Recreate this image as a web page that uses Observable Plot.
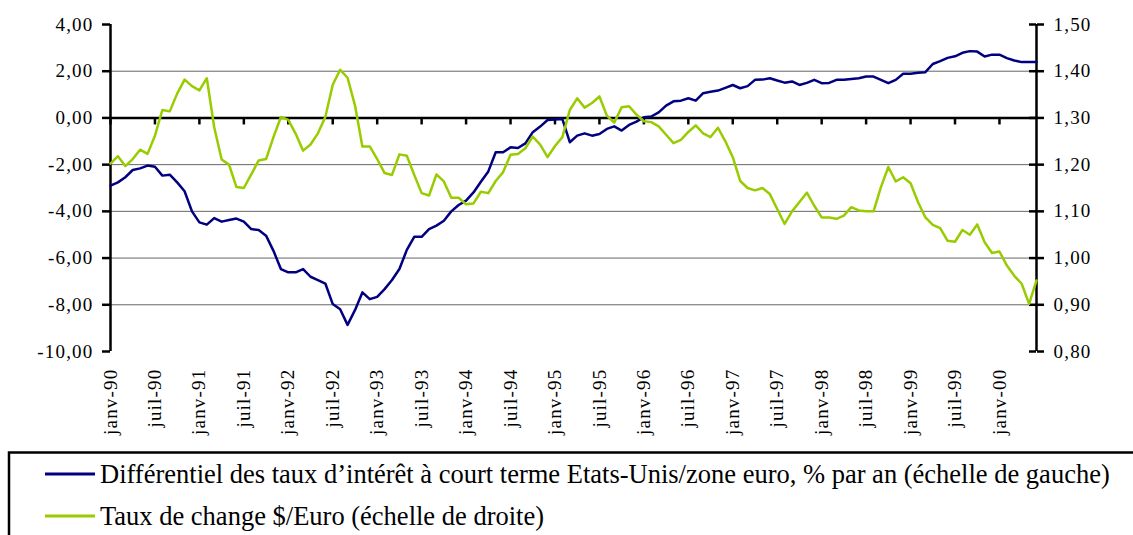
<!DOCTYPE html>
<html>
<head>
<meta charset="utf-8">
<script src="https://cdn.jsdelivr.net/npm/d3@7"></script>
<script src="https://cdn.jsdelivr.net/npm/@observablehq/plot@0.6"></script>
<style>
  html, body { margin: 0; padding: 0; background: #fff; }
  #wrap { position: relative; width: 1133px; height: 535px; overflow: hidden; }
  #legend { position: absolute; left: 0; top: 445px; }
  svg text { font-family: "Liberation Serif", Tinos, "Times New Roman", serif !important; }
</style>
</head>
<body>
<div id="wrap"><div id="chart"></div><svg id="legend" width="1133" height="90"></svg></div>
<script>
// Month names (French abbreviations) and the first year of the series
const monthNames = ["janv","févr","mars","avr","mai","juin","juil","août","sept","oct","nov","déc"];
const startYear = 1990;

// Différentiel des taux d'intérêt à court terme Etats-Unis/zone euro (% par an), monthly Jan 1990 – Jun 2000
const differential = [
  -2.90,-2.76,-2.54,-2.23,-2.16,-2.04,-2.09,-2.47,-2.43,-2.76,
  -3.14,-4.00,-4.47,-4.57,-4.29,-4.44,-4.37,-4.31,-4.44,-4.76,
  -4.80,-5.04,-5.69,-6.47,-6.61,-6.61,-6.47,-6.80,-6.94,-7.09,
  -7.97,-8.19,-8.86,-8.23,-7.47,-7.76,-7.66,-7.33,-6.94,-6.47,
  -5.65,-5.09,-5.09,-4.76,-4.61,-4.40,-4.00,-3.73,-3.54,-3.19,
  -2.73,-2.29,-1.47,-1.47,-1.26,-1.29,-1.09,-0.61,-0.37,-0.09,
  -0.07,-0.05,-1.04,-0.76,-0.66,-0.76,-0.69,-0.47,-0.36,-0.54,
  -0.30,-0.16,0.03,0.06,0.24,0.53,0.71,0.74,0.84,0.74,
  1.06,1.12,1.17,1.29,1.41,1.27,1.36,1.63,1.64,1.70,
  1.60,1.51,1.56,1.41,1.50,1.63,1.49,1.50,1.63,1.63,
  1.67,1.70,1.77,1.77,1.63,1.49,1.63,1.89,1.89,1.93,
  1.96,2.31,2.43,2.57,2.64,2.79,2.86,2.84,2.63,2.71,
  2.71,2.56,2.46,2.39,2.39,2.39
];

// Taux de change $/Euro, monthly Jan 1990 – Jun 2000
const exchangeRate = [
  1.202,1.218,1.197,1.212,1.232,1.223,1.262,1.317,1.314,1.352,
  1.382,1.368,1.359,1.385,1.280,1.211,1.200,1.152,1.150,1.179,
  1.209,1.212,1.259,1.302,1.296,1.266,1.230,1.243,1.267,1.302,
  1.371,1.403,1.386,1.327,1.239,1.239,1.212,1.182,1.178,1.222,
  1.219,1.178,1.139,1.134,1.179,1.164,1.129,1.129,1.115,1.117,
  1.142,1.139,1.165,1.184,1.221,1.223,1.235,1.260,1.243,1.216,
  1.240,1.259,1.317,1.342,1.322,1.332,1.346,1.305,1.290,1.323,
  1.325,1.307,1.293,1.291,1.282,1.264,1.246,1.253,1.270,1.284,
  1.267,1.259,1.279,1.250,1.216,1.165,1.150,1.145,1.150,1.137,
  1.105,1.073,1.100,1.120,1.140,1.112,1.087,1.087,1.084,1.091,
  1.109,1.102,1.100,1.100,1.152,1.195,1.164,1.173,1.160,1.120,
  1.087,1.071,1.064,1.037,1.035,1.060,1.050,1.072,1.034,1.011,
  1.014,0.984,0.962,0.945,0.902,0.952
];

// Axis ticks
const leftTicks = [-10, -8, -6, -4, -2, 0, 2, 4];
const rightTicks = [0.80, 0.90, 1.00, 1.10, 1.20, 1.30, 1.40, 1.50];
const gridValues = [2, -2, -4, -6, -8];

// Series labels / colours
const seriesNames = [
  "Différentiel des taux d’intérêt à court terme Etats-Unis/zone euro, % par an (échelle de gauche)",
  "Taux de change $/Euro (échelle de droite)"
];
const seriesColors = ["#000080", "#99cc00"];

// ---- derived ----
const monthLabel = i => monthNames[i % 12] + "-" + String((startYear + Math.floor(i / 12)) % 100).padStart(2, "0");
const n = differential.length;
const lastIdx = n - 1;
const xTicks = d3.range(0, n, 6);
// the exchange rate is drawn against the left scale: 1.30 ↔ 0 and 0.10 ↔ 2 points
const rateToLeft = r => (r - 1.3) * 20;
const leftToRate = v => 1.3 + v / 20;
const blueData = differential.map((v, i) => ({i, v}));
const greenData = exchangeRate.map((r, i) => ({i, v: rateToLeft(r)}));
const fmt = v => v.toFixed(2).replace(".", ",");
const serif = "Liberation Serif, Tinos, Times New Roman, serif";

const chart = Plot.plot({
  width: 1133,
  height: 445,
  marginLeft: 110,
  marginRight: 97,
  marginTop: 24,
  marginBottom: 94,
  x: {domain: [0, lastIdx]},
  y: {domain: [-10, 4]},
  style: {fontFamily: serif, fontSize: "19px", letterSpacing: "1.2px", color: "#000", background: "#fff", overflow: "visible"},
  marks: [
    Plot.ruleY(gridValues, {stroke: "#666", strokeWidth: 1}),
    Plot.ruleY([0], {stroke: "#000", strokeWidth: 2.5}),
    Plot.ruleX(xTicks, {y1: 0, y2: -0.3, stroke: "#000", strokeWidth: 2.5}),
    Plot.ruleX([0, lastIdx], {stroke: "#000", strokeWidth: 2.5}),
    Plot.ruleY(rightTicks.map(rateToLeft), {x1: lastIdx - 7 / 7.408, x2: lastIdx, stroke: "#000", strokeWidth: 2.5}),
    Plot.axisY(leftTicks, {anchor: "left", tickSize: 8, tickPadding: 9, strokeWidth: 2.5, tickFormat: fmt, label: null}),
    Plot.axisY(rightTicks.map(rateToLeft), {anchor: "right", tickSize: 7, tickPadding: 10, strokeWidth: 2.5, tickFormat: v => fmt(leftToRate(v)), label: null}),
    Plot.axisX(xTicks, {anchor: "bottom", tickSize: 0, tickPadding: 17, tickRotate: -90, tickFormat: monthLabel, label: null}),
    Plot.line(blueData, {x: "i", y: "v", stroke: seriesColors[0], strokeWidth: 2.5}),
    Plot.line(greenData, {x: "i", y: "v", stroke: seriesColors[1], strokeWidth: 2.5})
  ]
});
document.getElementById("chart").appendChild(chart);

// Legend
const lg = d3.select("#legend");
lg.append("rect").attr("x", 9).attr("y", 7.5).attr("width", 1200).attr("height", 200)
  .attr("fill", "none").attr("stroke", "#000").attr("stroke-width", 2.5);
const rowY = [29, 71];
seriesNames.forEach((name, k) => {
  lg.append("line").attr("x1", 45).attr("x2", 95).attr("y1", rowY[k]).attr("y2", rowY[k])
    .attr("stroke", seriesColors[k]).attr("stroke-width", 3);
  lg.append("text").attr("x", 100).attr("y", rowY[k] + 9)
    .attr("font-family", serif).attr("font-size", 26.5)
    .attr("fill", "#000").text(name);
});
</script>
</body>
</html>
